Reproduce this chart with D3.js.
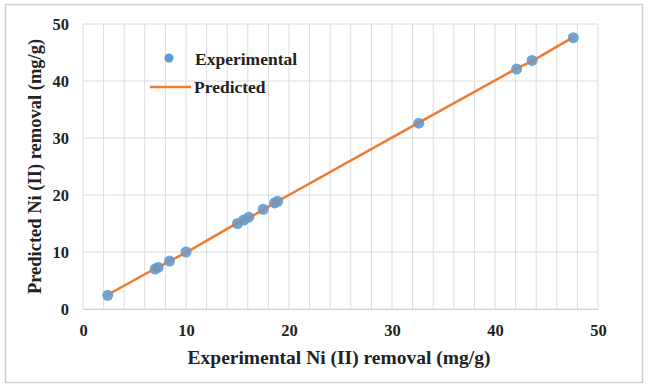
<!DOCTYPE html>
<html>
<head>
<meta charset="utf-8">
<script src="https://cdn.jsdelivr.net/npm/d3@7"></script>
<style>
  body { margin: 0; background: #fff; }
  svg text { font-family: "Liberation Serif", "Times New Roman", serif; font-weight: bold; fill: #222; }
</style>
</head>
<body>
<div id="chart"></div>
<script>
// experimental vs predicted Ni (II) removal (mg/g)
const experimental = [2.4, 7.0, 7.3, 8.4, 10.0, 15.0, 15.6, 16.1, 17.5, 18.6, 18.9, 32.6, 42.1, 43.6, 47.6];
const predicted    = [2.5, 7.1, 7.3, 8.4, 9.9, 15.1, 15.6, 16.0, 17.4, 18.6, 18.9, 32.7, 42.2, 43.5, 47.7];
const xTicks = [0, 10, 20, 30, 40, 50];
const yTicks = [0, 10, 20, 30, 40, 50];
const xMinorTicks = d3.range(0, 51, 2);

const width = 650, height = 387;
const margin = { top: 24, right: 52, bottom: 78, left: 83 };
const innerW = width - margin.left - margin.right;
const innerH = height - margin.top - margin.bottom;

const svg = d3.select("#chart")
  .append("svg")
  .attr("width", width)
  .attr("height", height);

// outer chart frame
svg.append("rect")
  .attr("x", 5.5).attr("y", 4.5)
  .attr("width", 637).attr("height", 378)
  .attr("fill", "#fff")
  .attr("stroke", "#d0d0d0")
  .attr("stroke-width", 1.5);

const g = svg.append("g")
  .attr("transform", `translate(${margin.left},${margin.top})`);

const x = d3.scaleLinear().domain([0, 50]).range([0, innerW]);
const y = d3.scaleLinear().domain([0, 50]).range([innerH, 0]);

// gridlines
g.append("g")
  .selectAll("line")
  .data(xMinorTicks)
  .join("line")
  .attr("x1", d => x(d)).attr("x2", d => x(d))
  .attr("y1", 0).attr("y2", innerH)
  .attr("stroke", "#dcdcdc")
  .attr("stroke-width", 1);

g.append("g")
  .selectAll("line")
  .data(yTicks)
  .join("line")
  .attr("x1", 0).attr("x2", innerW)
  .attr("y1", d => y(d)).attr("y2", d => y(d))
  .attr("stroke", "#dcdcdc")
  .attr("stroke-width", 1);

// axes (labels only)
const xAxis = g.append("g")
  .attr("transform", `translate(0,${innerH})`)
  .call(d3.axisBottom(x).tickValues(xTicks).tickSize(0).tickPadding(15));
xAxis.select(".domain").attr("stroke", "#d0d0d0");
xAxis.selectAll("text").style("font-size", "16.5px");

const yAxis = g.append("g")
  .call(d3.axisLeft(y).tickValues(yTicks).tickSize(0).tickPadding(14));
yAxis.select(".domain").remove();
yAxis.selectAll("text").style("font-size", "16.5px");

// predicted line
const pts = experimental.map((d, i) => ({ x: d, e: d, p: predicted[i] }));
const line = d3.line().x(d => x(d.x)).y(d => y(d.p));

g.append("path")
  .datum(pts)
  .attr("fill", "none")
  .attr("stroke", "#ed7d31")
  .attr("stroke-width", 2.5)
  .attr("d", line);

// experimental points
g.selectAll("circle.exp")
  .data(pts)
  .join("circle")
  .attr("class", "exp")
  .attr("cx", d => x(d.x))
  .attr("cy", d => y(d.e))
  .attr("r", 5.5)
  .attr("fill", "#5b9bd5")
  .attr("fill-opacity", 0.9);

// line drawn again on top, partly see-through
g.append("path")
  .datum(pts)
  .attr("fill", "none")
  .attr("stroke", "#ed7d31")
  .attr("stroke-width", 1.5)
  .attr("stroke-opacity", 0.6)
  .attr("d", line);

// legend
const legend = svg.append("g");
legend.append("circle")
  .attr("cx", 169).attr("cy", 58).attr("r", 4.5)
  .attr("fill", "#5b9bd5");
legend.append("text")
  .attr("x", 195).attr("y", 59).attr("dy", "0.35em")
  .style("font-size", "17.5px")
  .text("Experimental");
legend.append("line")
  .attr("x1", 150).attr("x2", 191)
  .attr("y1", 87).attr("y2", 87)
  .attr("stroke", "#ed7d31").attr("stroke-width", 2.5);
legend.append("text")
  .attr("x", 194).attr("y", 87).attr("dy", "0.35em")
  .style("font-size", "17.5px")
  .text("Predicted");

// axis titles
svg.append("text")
  .attr("x", 339).attr("y", 357)
  .attr("text-anchor", "middle").attr("dy", "0.35em")
  .style("font-size", "19.5px")
  .text("Experimental Ni (II) removal (mg/g)");

svg.append("text")
  .attr("transform", `translate(35,${margin.top + innerH / 2}) rotate(-90)`)
  .attr("text-anchor", "middle").attr("dy", "0.35em")
  .style("font-size", "18.5px")
  .text("Predicted Ni (II) removal (mg/g)");
</script>
</body>
</html>
